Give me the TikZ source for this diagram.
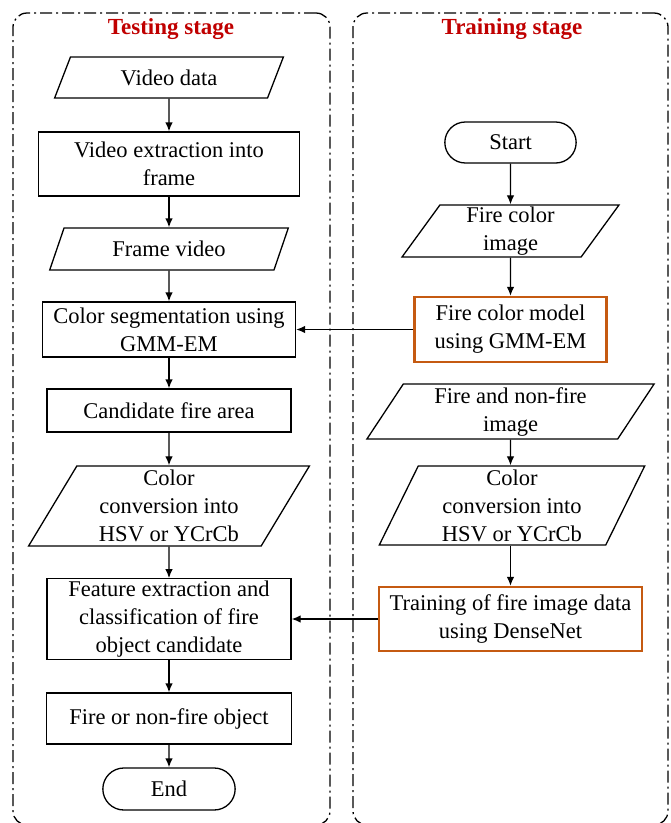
\documentclass[tikz,border=0pt]{standalone}
\usepackage{fontspec}
\setmainfont{Liberation Serif}
\usetikzlibrary{shapes,arrows,arrows.meta,positioning}
\definecolor{titlered}{HTML}{C00000}
\definecolor{boxorange}{HTML}{C55A11}
\tikzstyle{block} = [rectangle, draw, line width=1.3pt, fill=white,
    align=center, inner sep=2pt]
\tikzstyle{model} = [block, draw=boxorange, line width=2.4pt]
\tikzstyle{io} = [trapezium, draw, line width=1.3pt, fill=white, align=center,
    inner sep=0pt, trapezium stretches=true,
    trapezium left angle=64, trapezium right angle=116]
\tikzstyle{term} = [rounded rectangle, draw, line width=1.3pt, fill=white]
\tikzstyle{panel} = [rectangle, draw, line width=1.3pt, rounded corners=14pt,
    dash pattern=on 12pt off 4pt on 2pt off 4pt]
\tikzstyle{stagetitle} = [font=\fontsize{23}{28}\selectfont\bfseries, text=titlered]
\tikzstyle{line} = [draw, line width=1.3pt, -{Latex[length=9pt, width=7.5pt]}]

\begin{document}
\begin{tikzpicture}[x=1pt, y=-1pt, every node/.style={font=\fontsize{22.5}{28}\selectfont}]
		\useasboundingbox (0,0) rectangle (671,823);
		% Draw panels
		\node [panel, minimum width=317pt, minimum height=812pt] (testpanel) at (171.5,419) {};
		\node [panel, minimum width=315pt, minimum height=812pt] (trainpanel) at (510.5,419) {};
		\node [stagetitle] (testtitle) at (171,29) {Testing stage};
		\node [stagetitle] (traintitle) at (512,29) {Training stage};
		% Testing stage nodes
		\node [io, minimum width=229pt, minimum height=41pt] (videodata) at (169,77.5) {Video data};
		\node [block, minimum width=261pt, minimum height=64pt] (extract) at (169,164) {Video extraction into\\frame};
		\node [io, minimum width=239pt, minimum height=42pt] (framevideo) at (169,249) {Frame video};
		\node [block, minimum width=253pt, minimum height=55pt] (segment) at (169,329.5) {Color segmentation using\\GMM-EM};
		\node [block, minimum width=244pt, minimum height=43pt] (candidate) at (169,410.5) {Candidate fire area};
		\node [io, trapezium left angle=63, trapezium right angle=117,
			minimum width=281pt, minimum height=80pt] (convtest) at (169,506) {Color\\conversion into\\HSV or YCrCb};
		\node [block, minimum width=244pt, minimum height=80pt] (feature) at (169,619) {Feature extraction and\\classification of fire\\object candidate};
		\node [block, minimum width=245pt, minimum height=51pt] (fireobj) at (169,718.5) {Fire or non-fire object};
		\node [term, minimum width=139pt, minimum height=42pt] (theend) at (169,789) {End};
		% Training stage nodes
		\node [term, minimum width=138pt, minimum height=41pt] (start) at (510.5,142.5) {Start};
		\node [io, minimum width=217pt, minimum height=52pt] (colorimg) at (510.5,231) {Fire color\\image};
		\node [model, minimum width=192pt, minimum height=65pt] (gmm) at (510.5,329.5) {Fire color model\\using GMM-EM};
		\node [io, trapezium left angle=62, trapezium right angle=118,
			minimum width=288pt, minimum height=55pt] (bothimg) at (510.5,411.5) {Fire and non-fire\\image};
		\node [io, trapezium left angle=68, trapezium right angle=112,
			minimum width=266pt, minimum height=79pt] (convtrain) at (512,505.5) {Color\\conversion into\\HSV or YCrCb};
		\node [model, minimum width=263pt, minimum height=64pt] (densenet) at (510.5,619) {Training of fire image data\\using DenseNet};
		% Draw lines connecting (arrows)
		\path [line] (videodata) -- (extract);
		\path [line] (extract) -- (framevideo);
		\path [line] (framevideo) -- (segment);
		\path [line] (segment) -- (candidate);
		\path [line] (candidate) -- (convtest);
		\path [line] (convtest) -- (feature);
		\path [line] (feature) -- (fireobj);
		\path [line] (fireobj) -- (theend);
		\path [line] (start) -- (colorimg);
		\path [line] (colorimg) -- (gmm);
		\path [line] (bothimg) -- (convtrain.north -| bothimg);
		\path [line] (convtrain.south -| densenet) -- (densenet);
		\path [line] (gmm) -- (segment);
		\path [line] (densenet) -- (feature);
	\end{tikzpicture}
\end{document}
